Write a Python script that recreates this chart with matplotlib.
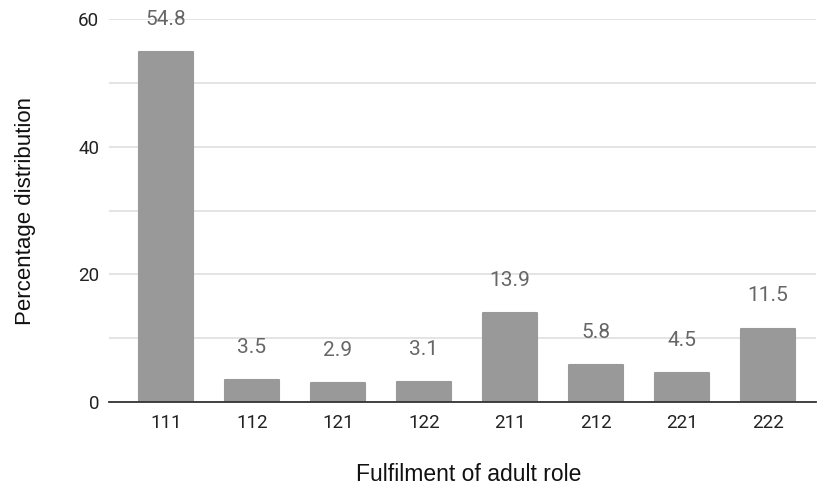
import matplotlib
matplotlib.use("Agg")
import matplotlib.pyplot as plt

categories = ["111", "112", "121", "122", "211", "212", "221", "222"]
values = [54.8, 3.5, 2.9, 3.1, 13.9, 5.8, 4.5, 11.5]
y_ticks = [0, 20, 40, 60]

plt.rcParams['font.family'] = ['Roboto', 'DejaVu Sans']

fig = plt.figure(figsize=(8.17, 4.9), dpi=100)
ax = fig.add_axes([0.1334, 0.1796, 0.8654, 0.7816])

x = list(range(len(categories)))
ax.bar(x, values, width=0.62, color="#999999", edgecolor="#999999",
       linewidth=1.5, joinstyle="round", zorder=3)

# value labels above each bar
for xi, v in zip(x, values):
    ax.annotate(f"{v}", (xi, v), xytext=(0, 23.5), textcoords="offset points",
                ha="center", va="center", fontsize=15, color="#666666")

ax.set_xlim(-0.663, 7.56)
ax.set_ylim(0, 60)
ax.set_yticks(y_ticks)
ax.set_yticks(range(10, 60, 20), minor=True)
ax.set_xticks(x)
ax.set_xticklabels(categories)

ax.grid(axis="y", which="both", color="#dddddd", linewidth=1.1, zorder=0)
ax.tick_params(axis="both", which="both", length=0, labelsize=13.5, colors="#222222")
ax.tick_params(axis="x", pad=9)
ax.tick_params(axis="y", pad=7)

for side in ["top", "right", "left"]:
    ax.spines[side].set_visible(False)
ax.spines["bottom"].set_color("#333333")
ax.spines["bottom"].set_linewidth(1.3)
ax.spines["bottom"].set_zorder(4)

ax.set_xlabel("Fulfilment of adult role", fontsize=16.5, color="#111111",
              va="center", family=["Liberation Sans", "DejaVu Sans"])
ax.xaxis.set_label_coords(0.5085, -0.19)
ax.set_ylabel("Percentage distribution", fontsize=16, color="#111111",
              labelpad=30, family=["Liberation Sans", "DejaVu Sans"])

fig.savefig("out.png", dpi=100)
